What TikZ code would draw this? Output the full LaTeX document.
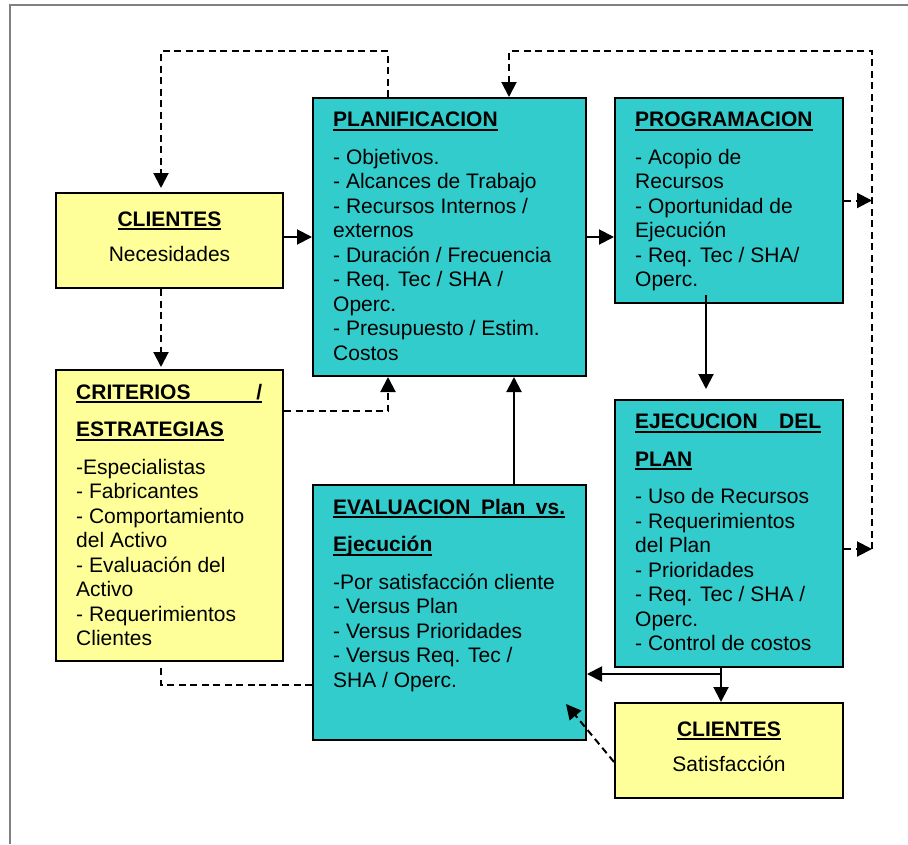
\documentclass[tikz,border=0pt]{standalone}
\usepackage{fontspec}
\setmainfont{Liberation Sans}
\usetikzlibrary{positioning, arrows.meta}
\definecolor{amarillo}{HTML}{FFFF99}
\definecolor{turquesa}{HTML}{33CCCC}
\newcommand\titulo[1]{\setbox0=\hbox{\bfseries #1}\rlap{\copy0}\rule[-4pt]{\wd0}{2pt}}

\begin{document}
\begin{tikzpicture}[x=1pt, y=-1pt,
caja/.style={draw, line width=2pt, anchor=north west, inner sep=0pt},
texto/.style={inner sep=0pt, align=left, font=\fontsize{21pt}{24.5pt}\selectfont},
flecha/.style={line width=2pt, -{Triangle[length=15pt,width=15pt]}},
discont/.style={line width=2pt, dash pattern=on 7pt off 4.5pt}]
\def\tit{13pt}
\def\arr{15pt}
\def\mrg{21pt}
\useasboundingbox (0,0) rectangle (908,844);
\draw[gray, line width=1.5pt] (10,844) -- (10,5) -- (908,5);
% cajas
\node[caja, fill=amarillo, minimum width=227pt, minimum height=95pt] (cli1) at (55,192) {};
\node[caja, fill=turquesa, minimum width=273pt, minimum height=278pt] (plan) at (312,97) {};
\node[caja, fill=turquesa, minimum width=228pt, minimum height=205pt] (prog) at (614,97) {};
\node[caja, fill=amarillo, minimum width=227pt, minimum height=291pt] (crit) at (55,369) {};
\node[caja, fill=turquesa, minimum width=273pt, minimum height=255pt] (eval) at (312,484) {};
\node[caja, fill=turquesa, minimum width=228pt, minimum height=267pt] (ejec) at (614,399) {};
\node[caja, fill=amarillo, minimum width=228pt, minimum height=95pt] (cli2) at (614,702) {};
% textos
\node[texto, align=center, yshift=4pt] (tcli1) at (cli1.center) {\titulo{CLIENTES}\\[10.5pt] Necesidades};
\node[texto, below right=\arr and \mrg of plan.north west] (tplan) {\titulo{PLANIFICACION}\\[\tit]
- Objetivos.\\
- Alcances de Trabajo\\
- Recursos Internos /\\
externos\\
- Duración / Frecuencia\\
- Req. Tec / SHA /\\
Operc.\\
- Presupuesto / Estim.\\
Costos};
\node[texto, below right=\arr and \mrg of prog.north west] (tprog) {\titulo{PROGRAMACION}\\[\tit]
- Acopio de\\
Recursos\\
- Oportunidad de\\
Ejecución\\
- Req. Tec / SHA/\\
Operc.};
\node[texto, below right=\arr and \mrg of crit.north west] (tcrit) {\titulo{\hbox to 186pt{CRITERIOS\hfill/}}\\[\tit]
\titulo{ESTRATEGIAS}\\[\tit]
-Especialistas\\
- Fabricantes\\
- Comportamiento\\
del Activo\\
- Evaluación del\\
Activo\\
- Requerimientos\\
Clientes};
\node[texto, below right=\arr and \mrg of eval.north west] (teval) {\titulo{\hbox to 232pt{EVALUACION\hfill Plan\hfill vs.}}\\[\tit]
\titulo{Ejecución}\\[\tit]
-Por satisfacción cliente\\
- Versus Plan\\
- Versus Prioridades\\
- Versus Req. Tec /\\
SHA / Operc.};
\node[texto, below right=\arr and \mrg of ejec.north west] (tejec) {\titulo{\hbox to 186pt{EJECUCION\hfill DEL}}\\[\tit]
\titulo{PLAN}\\[\tit]
- Uso de Recursos\\
- Requerimientos\\
del Plan\\
- Prioridades\\
- Req. Tec / SHA /\\
Operc.\\
- Control de costos};
\node[texto, align=center, yshift=4pt] (tcli2) at (cli2.center) {\titulo{CLIENTES}\\[10.5pt] Satisfacción};
% conectores
\coordinate (esq) at (872,51);
\coordinate (e1) at ([yshift=-150pt]ejec.north east);
\coordinate (e2) at ([xshift=107pt,yshift=-6pt]ejec.south west);
\draw[discont, flecha] ([xshift=76pt]plan.north west) -- ++(0,-46) -| ([xshift=106pt,yshift=4pt]cli1.north west);
\draw[flecha] (cli1.east |- plan.west) -- (plan.west);
\draw[flecha] (plan.east) -- (plan.east -| prog.west);
\draw[discont, flecha] ([xshift=106pt]cli1.south west) -- ([xshift=106pt,yshift=2pt]crit.north west);
\draw[discont, flecha] ([yshift=-42pt]crit.north east) -| ([xshift=76pt]plan.south west);
\draw[discont, flecha] (prog.east) -- (prog.east -| esq);
\draw[discont, flecha] (e1) -- (e1 -| esq);
\draw[discont, flecha] (e1 -| esq) -- (esq) -| ([xshift=197pt]plan.north west);
\draw[flecha] ([xshift=92pt,yshift=9pt]prog.south west) -- ([xshift=92pt,yshift=10pt]ejec.north west);
\draw[flecha] ([xshift=202pt]eval.north west) -- ([xshift=202pt]plan.south west);
\draw[flecha] ([xshift=107pt]ejec.south west) -- ([xshift=107pt]cli2.north west);
\draw[flecha] (e2) -- (e2 -| eval.east);
\draw[discont] ([yshift=-201pt]eval.north west) -| ([xshift=106pt,yshift=-5pt]crit.south west);
\draw[discont, flecha] ([yshift=-60pt]cli2.north west) -- ([xshift=-21pt,yshift=37pt]eval.south east);
\end{tikzpicture}
\end{document}
